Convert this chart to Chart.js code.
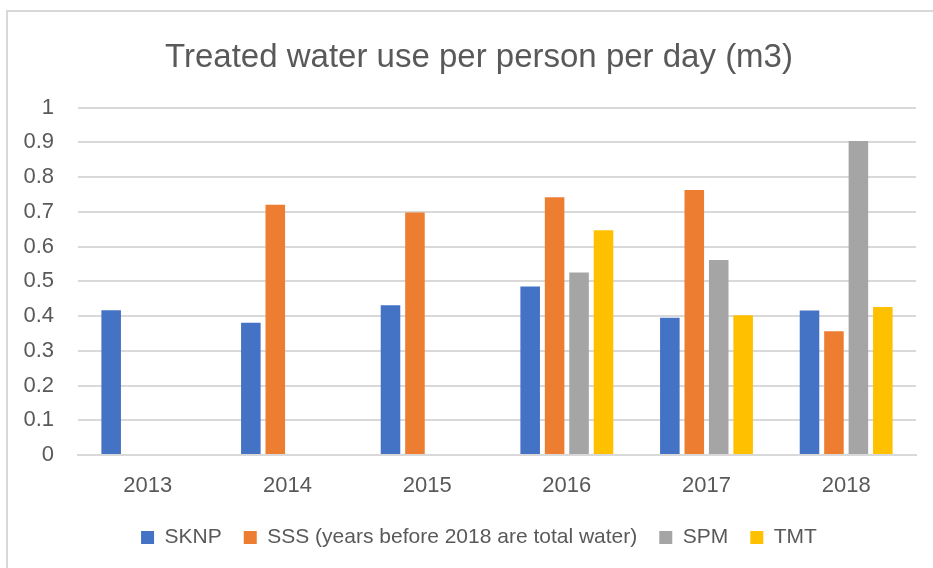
<!DOCTYPE html>
<html>
<head>
<meta charset="utf-8">
<script src="https://cdn.jsdelivr.net/npm/chart.js@4.4.1/dist/chart.umd.min.js"></script>
<style>
  html, body { margin: 0; padding: 0; background: #fff; }
  #wrap { position: relative; width: 933px; height: 568px; overflow: hidden; }
  #frame { position: absolute; left: 6px; top: 10px; width: 1000px; height: 700px; border-left: 2px solid #d9d9d9; border-top: 2px solid #d9d9d9; }
  #c { position: absolute; left: 0; top: 0; }
</style>
</head>
<body>
<div id="wrap">
  <div id="frame"></div>
  <canvas id="c" width="933" height="568"></canvas>
</div>
<script>
const titleText = "Treated water use per person per day (m3)";
const years = ["2013", "2014", "2015", "2016", "2017", "2018"];
const seriesNames = ["SKNP", "SSS (years before 2018 are total water)", "SPM", "TMT"];
const sknp = [0.417, 0.381, 0.431, 0.485, 0.395, 0.416];
const sss  = [null, 0.720, 0.698, 0.742, 0.763, 0.356];
const spm  = [null, null, null, 0.525, 0.561, 0.904];
const tmt  = [null, null, null, 0.647, 0.402, 0.426];
const yTickLabels = ["0", "0.1", "0.2", "0.3", "0.4", "0.5", "0.6", "0.7", "0.8", "0.9", "1"];

const colors = ["#4472C4", "#ED7D31", "#A5A5A5", "#FFC000"];
const FONT = "'Liberation Sans', Arial, sans-serif";
const TEXT = "#595959";

const values = [sknp, sss, spm, tmt];
const datasets = seriesNames.map((n, i) => ({
  label: n,
  data: values[i],
  backgroundColor: colors[i],
  borderWidth: 0,
  categoryPercentage: 0.70,
  barPercentage: 0.80
}));

// shift title and legend so they are centred like the reference
const shiftPlugin = {
  id: 'shiftBlocks',
  afterLayout(chart) {
    const dx = 16;
    if (chart.titleBlock) { chart.titleBlock.left += dx; chart.titleBlock.right += dx; }
    if (chart.legend) { chart.legend.left += dx; chart.legend.right += dx; }
  }
};

new Chart(document.getElementById('c'), {
  type: 'bar',
  data: { labels: years, datasets },
  plugins: [shiftPlugin],
  options: {
    responsive: false,
    animation: false,
    layout: { padding: { left: 10, right: 17, top: 12, bottom: 10 } },
    plugins: {
      title: {
        display: true,
        text: titleText,
        color: TEXT,
        font: { family: FONT, size: 33, weight: 'normal' },
        padding: { top: 26, bottom: 30 }
      },
      legend: {
        position: 'bottom',
        labels: {
          color: TEXT,
          font: { family: FONT, size: 21 },
          boxWidth: 13,
          boxHeight: 13,
          padding: 22
        }
      },
      tooltip: { enabled: false }
    },
    scales: {
      x: {
        afterFit: (s) => { s.height = 50; },
        grid: { display: false, drawTicks: false },
        border: { color: '#d9d9d9', width: 2 },
        ticks: { color: TEXT, font: { family: FONT, size: 22 }, padding: 18 }
      },
      y: {
        min: 0, max: 1,
        afterFit: (s) => { s.width = 68; },
        afterBuildTicks: (s) => { s.ticks = yTickLabels.map(t => ({ value: parseFloat(t) })); },
        grid: { color: '#d9d9d9', lineWidth: 2, drawTicks: false },
        border: { display: false },
        ticks: { color: TEXT, font: { family: FONT, size: 22 }, padding: 24,
                 callback: (v, i) => yTickLabels[i] }
      }
    }
  }
});
</script>
</body>
</html>
